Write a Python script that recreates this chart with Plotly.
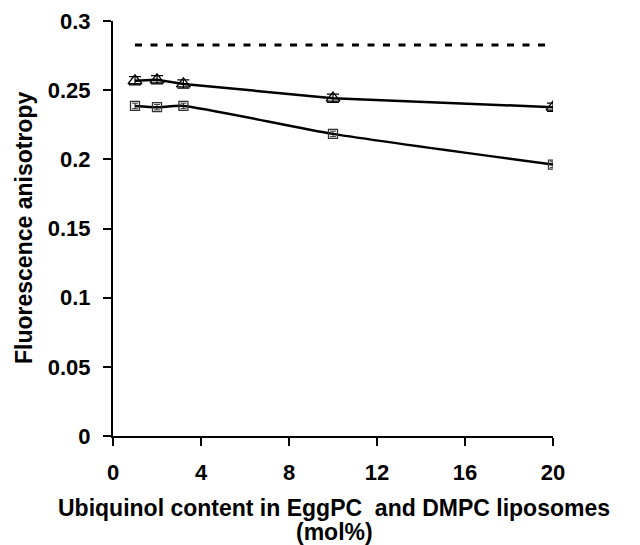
import plotly.graph_objects as go

x_tri = [1, 2, 3.2, 10, 20]
y_tri = [0.2568, 0.2575, 0.2545, 0.2442, 0.2377]
e_tri = [0.003, 0.003, 0.003, 0.003, 0.003]

x_sq = [1, 2, 3.2, 10, 20]
y_sq = [0.2386, 0.2377, 0.2386, 0.2184, 0.1962]
e_sq = [0.002, 0.002, 0.002, 0.002, 0.002]

x_ref = [1, 20]
y_ref = [0.2826, 0.2826]

x_ticks = [0, 4, 8, 12, 16, 20]
y_ticks = [0, 0.05, 0.1, 0.15, 0.2, 0.25, 0.3]
y_ticklabels = ["0", "0.05", "0.1", "0.15", "0.2", "0.25", "0.3"]

W, H = 632, 537
L, R, T, B = 105, 87, 13, 109
plot_w = W - L - R
plot_h = H - T - B

def px_x(p):
    return (p - L) / plot_w

def px_y(p):
    return (H - B - p) / plot_h

fig = go.Figure()
fig.add_trace(go.Scatter(
    x=x_ref, y=y_ref, mode="lines",
    line=dict(color="black", width=3, dash="7px,8.5px"),
    showlegend=False, hoverinfo="skip"))
fig.add_trace(go.Scatter(
    x=x_tri, y=y_tri, mode="lines+markers",
    line=dict(color="black", width=2.5),
    marker=dict(symbol="triangle-up-open", size=12, color="black", line=dict(width=1.3)),
    error_y=dict(type="data", array=e_tri, color="black", thickness=1.2, width=6),
    showlegend=False))
fig.add_trace(go.Scatter(
    x=x_sq, y=y_sq, mode="lines+markers",
    line=dict(color="black", width=2.5, shape="spline", smoothing=0.6),
    marker=dict(symbol="square-open", size=9, color="#333", line=dict(width=1.3)),
    error_y=dict(type="data", array=e_sq, color="#333", thickness=1, width=3),
    showlegend=False))

font = dict(family="Liberation Sans, Arial, sans-serif", size=23, color="black")
tfont = dict(family="Liberation Sans, Arial, sans-serif", size=22, color="black")

fig.update_layout(
    width=W, height=H,
    margin=dict(l=L, r=R, t=T, b=B),
    paper_bgcolor="white", plot_bgcolor="white",
    font=font,
    xaxis=dict(
        range=[0, 20], tickvals=x_ticks, ticktext=[f"<b>{t}</b>" for t in x_ticks],
        showline=True, linecolor="black", linewidth=2, ticks="outside",
        ticklen=8, tickwidth=2, tickcolor="black", showgrid=False, zeroline=False,
        ticklabelstandoff=8, tickfont=tfont, automargin=False,
        ticklabeloverflow="allow"),
    yaxis=dict(
        range=[0, 0.3], tickvals=y_ticks, ticktext=[f"<b>{t}</b>" for t in y_ticklabels],
        showline=True, linecolor="black", linewidth=2, ticks="outside",
        ticklen=8, tickwidth=2, tickcolor="black", showgrid=False, zeroline=False,
        ticklabelstandoff=8, tickfont=tfont, automargin=False,
        ticklabeloverflow="allow"),
    annotations=[
        dict(text="<b>Ubiquinol content in EggPC  and DMPC liposomes</b>",
             x=px_x(326), y=px_y(500), xref="paper", yref="paper",
             xanchor="center", yanchor="middle", showarrow=False, font=font),
        dict(text="<b>(mol%)</b>",
             x=px_x(326), y=px_y(524), xref="paper", yref="paper",
             xanchor="center", yanchor="middle", showarrow=False, font=font),
        dict(text="<b>Fluorescence anisotropy</b>",
             x=px_x(16), y=px_y(220), xref="paper", yref="paper",
             xanchor="center", yanchor="middle", showarrow=False, font=font,
             textangle=-90),
    ],
)

fig.write_html("out.html")
